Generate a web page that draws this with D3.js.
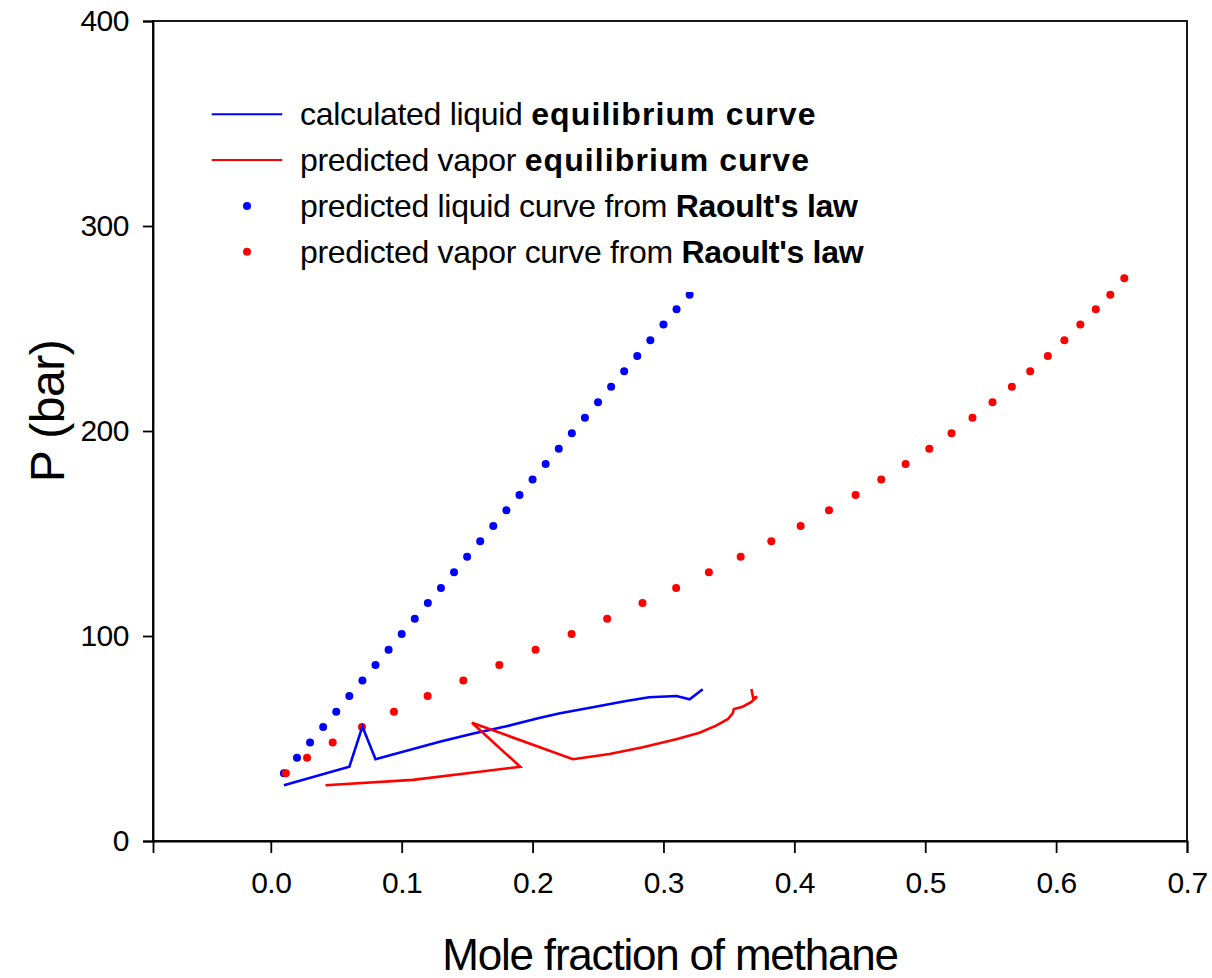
<!DOCTYPE html>
<html>
<head>
<meta charset="utf-8">
<script src="https://cdn.jsdelivr.net/npm/d3@7"></script>
<style>
  body { margin: 0; background: #fff; }
  text { font-family: "Liberation Sans", Arial, sans-serif; }
</style>
</head>
<body>
<svg width="1212" height="978"></svg>
<script>
// Raoult's law dots: pressure levels shared by both dotted series
const raoultP = [33.0, 40.6, 48.1, 55.6, 63.1, 70.7, 78.3, 85.9, 93.3, 101.0, 108.4, 116.1,
  123.4, 131.1, 138.7, 146.2, 153.7, 161.3, 168.8, 176.4, 183.9, 191.4, 198.9, 206.5,
  214.0, 221.6, 229.1, 236.6, 244.3, 251.9, 259.4, 266.5, 274.5];
const raoultLiquidX = [0.01, 0.02, 0.03, 0.04, 0.05, 0.06, 0.07, 0.08, 0.09, 0.10, 0.11, 0.12,
  0.13, 0.14, 0.15, 0.16, 0.17, 0.18, 0.19, 0.20, 0.21, 0.22, 0.23, 0.24,
  0.25, 0.26, 0.27, 0.28, 0.29, 0.30, 0.31, 0.32, 0.33];
const raoultVaporX = [0.0115, 0.0277, 0.0473, 0.0697, 0.0941, 0.1198, 0.1471, 0.1746, 0.2023,
  0.2298, 0.2570, 0.2840, 0.3097, 0.3347, 0.3590, 0.3824, 0.4048, 0.4265, 0.4468, 0.4664,
  0.4850, 0.5031, 0.5201, 0.5361, 0.5514, 0.5662, 0.5802, 0.5937, 0.6063, 0.6185, 0.6303,
  0.6414, 0.6521];

// calculated liquid equilibrium curve
const liquidX = [0.01, 0.06, 0.07, 0.08, 0.129, 0.154, 0.18, 0.205, 0.221, 0.246, 0.2715, 0.289, 0.31, 0.32, 0.33];
const liquidP = [27.2, 36.2, 55.8, 39.9, 48.4, 52.3, 56.0, 60.0, 62.3, 65.2, 68.3, 70.1, 70.7, 69.1, 74.0];

// predicted vapor equilibrium curve
const vaporX = [0.0418, 0.1086, 0.1595, 0.1906, 0.1537, 0.2308, 0.2588, 0.2842, 0.3097, 0.3275,
  0.3402, 0.3491, 0.3529, 0.3538, 0.3605, 0.3669, 0.3715, 0.3685, 0.3672];
const vaporP = [27.2, 29.8, 33.8, 36.2, 57.7, 39.9, 42.4, 45.7, 49.6, 52.8,
  56.3, 59.4, 62.3, 64.4, 65.5, 67.7, 70.4, 69.8, 74.1];

const xTicks = [0.0, 0.1, 0.2, 0.3, 0.4, 0.5, 0.6, 0.7];
const yTicks = [0, 100, 200, 300, 400];

const legendItems = [
  { kind: 'line', color: '#0000ff', plain: 'calculated liquid ', bold: 'equilibrium curve' },
  { kind: 'line', color: '#ff0000', plain: 'predicted vapor ', bold: 'equilibrium curve' },
  { kind: 'dot', color: '#0000ff', plain: 'predicted liquid curve from ', bold: "Raoult's law" },
  { kind: 'dot', color: '#ff0000', plain: 'predicted vapor curve from ', bold: "Raoult's law" }
];

const margin = { top: 21, right: 25, bottom: 137, left: 153 };
const width = 1212 - margin.left - margin.right;
const height = 978 - margin.top - margin.bottom;

const svg = d3.select('svg');
const g = svg.append('g').attr('transform', `translate(${margin.left},${margin.top})`);

const x = d3.scaleLinear().domain([-0.09, 0.7]).range([0, width]);
const y = d3.scaleLinear().domain([0, 400]).range([height, 0]);

const toPts = (xs, ys) => xs.map((d, i) => [d, ys[i]]);
const line = d3.line().x(d => x(d[0])).y(d => y(d[1]));

// dots
g.append('g').selectAll('circle')
  .data(toPts(raoultLiquidX, raoultP))
  .join('circle')
  .attr('cx', d => x(d[0]))
  .attr('cy', d => y(d[1]))
  .attr('r', 4)
  .attr('fill', '#0000ff');

g.append('g').selectAll('circle')
  .data(toPts(raoultVaporX, raoultP))
  .join('circle')
  .attr('cx', d => x(d[0]))
  .attr('cy', d => y(d[1]))
  .attr('r', 4)
  .attr('fill', '#ff0000');

g.append('path')
  .datum(toPts(liquidX, liquidP))
  .attr('d', line)
  .attr('fill', 'none')
  .attr('stroke', '#0000ff')
  .attr('stroke-width', 2.6);

g.append('path')
  .datum(toPts(vaporX, vaporP))
  .attr('d', line)
  .attr('fill', 'none')
  .attr('stroke', '#ff0000')
  .attr('stroke-width', 2.6);

// frame
g.append('rect')
  .attr('width', width)
  .attr('height', height)
  .attr('fill', 'none')
  .attr('stroke', '#000')
  .attr('stroke-width', 1.8);

// axes
const xAxis = g.append('g')
  .attr('transform', `translate(0,${height})`)
  .call(d3.axisBottom(x).tickValues(xTicks).tickFormat(d3.format('.1f')).tickSize(12).tickPadding(10));
const yAxis = g.append('g')
  .call(d3.axisLeft(y).tickValues(yTicks).tickSize(10).tickPadding(14));

[xAxis, yAxis].forEach(a => {
  a.select('.domain').attr('stroke-width', 1.8);
  a.selectAll('.tick line').attr('stroke-width', 1.8);
  a.selectAll('.tick text')
    .attr('font-size', 30)
    .attr('font-family', '"Liberation Sans", Arial, sans-serif')
    .attr('letter-spacing', -0.5)
    .attr('fill', '#000');
});
xAxis.selectAll('.tick text').attr('dy', '1.0em');

// legend with opaque background
const legend = svg.append('g');
legend.append('rect')
  .attr('x', 200).attr('y', 88)
  .attr('width', 670).attr('height', 204)
  .attr('fill', '#fff');

const rowY = [114.3, 160, 206, 251.7];
legendItems.forEach((item, i) => {
  const row = legend.append('g').attr('transform', `translate(0,${rowY[i]})`);
  if (item.kind === 'line') {
    row.append('line')
      .attr('x1', 211.7).attr('x2', 282.3)
      .attr('stroke', item.color).attr('stroke-width', 2);
  } else {
    row.append('circle').attr('cx', 247).attr('r', 4).attr('fill', item.color);
  }
  const t = row.append('text')
    .attr('x', 300).attr('y', 11)
    .attr('font-size', 32)
    .attr('letter-spacing', -0.3)
    .attr('fill', '#000');
  t.append('tspan').text(item.plain);
  t.append('tspan')
    .attr('font-weight', 'bold')
    .attr('letter-spacing', item.kind === 'line' ? 1.1 : -0.3)
    .text(item.bold);
});

// axis titles
svg.append('text')
  .attr('x', 670)
  .attr('y', 970)
  .attr('text-anchor', 'middle')
  .attr('font-size', 44)
  .attr('letter-spacing', -1.2)
  .text('Mole fraction of methane');

svg.append('text')
  .attr('transform', 'translate(64,411) rotate(-90)')
  .attr('text-anchor', 'middle')
  .attr('font-size', 48)
  .attr('letter-spacing', -0.5)
  .text('P (bar)');
</script>
</body>
</html>
